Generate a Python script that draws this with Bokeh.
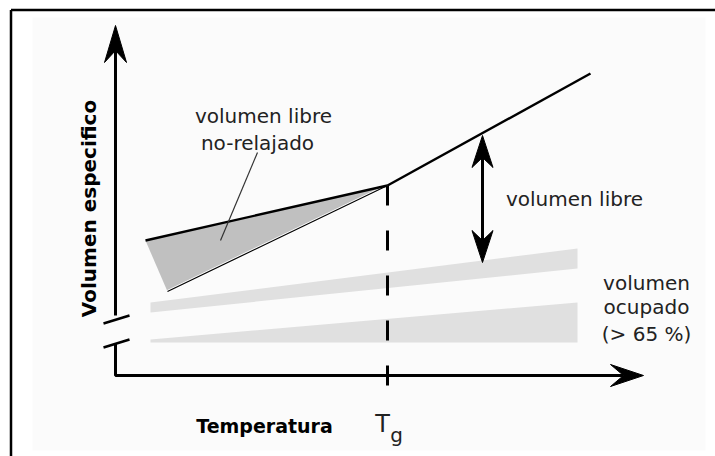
import math
from bokeh.plotting import figure
from bokeh.models import Range1d
from bokeh.core.properties import value
from bokeh.embed import file_html
from bokeh.resources import INLINE

# ---- schematic data (T = temperature units, V = specific volume units) ----
y_axis_top = 350
x_axis_end = 528
y_axis_gap = [32, 60]                 # broken y axis
break_T = [-12, 14]
break_low_V = [28, 36]
break_high_V = [52, 60]

Tg = 272
V_at_Tg = 190
liquid_T = [272, 475]
liquid_V = [190, 302]
glass_T = [30, 272]
glass_V = [135, 190]
relaxed_T = [52, 272]
relaxed_V = [84, 190]
unrelaxed_T = [30, 272, 52]
unrelaxed_V = [135, 190, 84]
free_band_T = [35, 462, 462, 35]
free_band_V = [73, 127, 107, 63]
occ_band_T = [35, 462, 462, 35]
occ_band_V = [36, 73, 33, 33]
free_arrow_T = 367
free_arrow_V = [113, 240]
pointer_T = [142, 105]
pointer_V = [223, 135]
Tg_line_bottom = -15

labels = ["volumen libre", "no-relajado", "volumen libre",
          "volumen", "ocupado", "(> 65 %)"]
labels_T = [148, 142, 459, 531, 531, 531]
labels_V = [260, 233, 177, 93, 69, 42]

FONT = "DejaVu Sans"

p = figure(width=715, height=456, output_backend="svg", toolbar_location=None,
           x_range=Range1d(-115, 600), y_range=Range1d(-81, 375),
           x_axis_location=None, y_axis_location=None, min_border=0,
           background_fill_color="white", border_fill_color="white")
p.grid.visible = False
p.outline_line_color = None

# faint panel + frame
p.quad(left=-83, right=590, bottom=-75, top=358, fill_color="#fbfbfb", line_color=None)
p.line([-104.5, 600], [365.5, 365.5], line_color="black", line_width=2.5)
p.line([-104.5, -104.5], [-81, 365.5], line_color="black", line_width=2.5)


def head(tip, d, L=34, W=22, notch=22):
    tx, ty = tip
    dx, dy = d
    px, py = -dy, dx
    bx, by = tx - L * dx, ty - L * dy
    xs = [tx, bx + W / 2 * px, tx - notch * dx, bx - W / 2 * px]
    ys = [ty, by + W / 2 * py, ty - notch * dy, by - W / 2 * py]
    return xs, ys


# bands (occupied volume)
p.patch(free_band_T, free_band_V, fill_color="#e0e0e0", line_color=None)
p.patch(occ_band_T, occ_band_V, fill_color="#e0e0e0", line_color=None)

# unrelaxed free volume triangle
p.patch(unrelaxed_T, unrelaxed_V, fill_color="#c0c0c0", line_color=None)
p.line(relaxed_T, relaxed_V, line_color="white", line_width=3)
p.line(relaxed_T, relaxed_V, line_color="black", line_width=1.2)
p.line(glass_T, glass_V, line_color="black", line_width=2.4)
p.line(liquid_T, liquid_V, line_color="black", line_width=2.4)
p.line(pointer_T, pointer_V, line_color="#333333", line_width=1.2)

# Tg dashed line
p.line([Tg, Tg], [V_at_Tg, Tg_line_bottom], line_color="black", line_width=3,
       line_dash="20 25")

# axes
p.line([0, 0], [y_axis_gap[1], y_axis_top - 20], line_color="black", line_width=3)
p.line([0, 0, x_axis_end - 20], [y_axis_gap[0], 0, 0], line_color="black", line_width=3)
p.line(break_T, break_low_V, line_color="black", line_width=2.5)
p.line(break_T, break_high_V, line_color="black", line_width=2.5)

hx, hy = head((0, y_axis_top), (0, 1), L=37, W=22, notch=25)
ax, ay = head((x_axis_end, 0), (1, 0), L=33, W=22, notch=20)
u1x, u1y = head((free_arrow_T, free_arrow_V[1]), (0, 1), L=32, W=21, notch=22)
d1x, d1y = head((free_arrow_T, free_arrow_V[0]), (0, -1), L=32, W=21, notch=22)
p.patches([hx, ax, u1x, d1x], [hy, ay, u1y, d1y], fill_color="black", line_color="black",
          line_width=1)
p.line([free_arrow_T, free_arrow_T], [free_arrow_V[0] + 20, free_arrow_V[1] - 20],
       line_color="black", line_width=3)

# texts
p.text(x=labels_T, y=labels_V, text=labels, text_font=value(FONT), text_font_size="20px",
       text_align="center", text_baseline="alphabetic", text_color="#222222")
p.text(x=[149], y=[-50], text=["Temperatura"], text_font=value(FONT), text_font_style="bold",
       text_font_size="19px", text_align="center", text_baseline="alphabetic", text_color="black")
p.text(x=[-27], y=[167], text=["Volumen especifico"], text_font=value(FONT),
       text_font_style="bold", text_font_size="20px", text_align="center",
       text_baseline="alphabetic", angle=math.pi / 2, text_color="black")
p.text(x=[267], y=[-48], text=["T"], text_font=value(FONT), text_font_size="24px",
       text_align="center", text_baseline="alphabetic", text_color="#222222")
p.text(x=[281], y=[-59], text=["g"], text_font=value(FONT), text_font_size="20px",
       text_align="center", text_baseline="alphabetic", text_color="#222222")

open("out.html", "w").write(file_html(p, INLINE))
